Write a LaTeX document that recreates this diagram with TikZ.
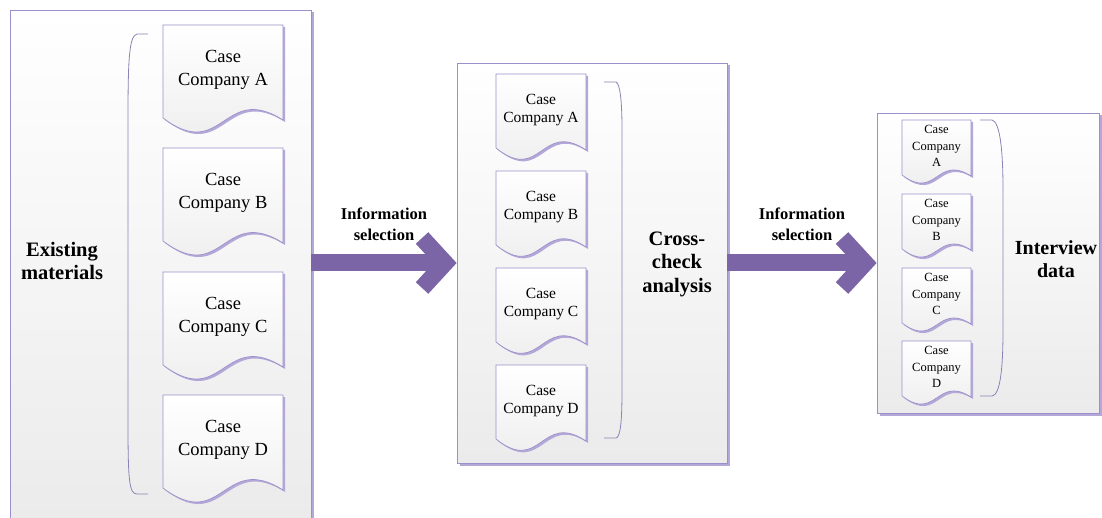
\documentclass[tikz,border=0pt]{standalone}
\usepackage{fontspec}
\setmainfont{Liberation Serif}
\usetikzlibrary{arrows.meta,shadows}
\definecolor{FlowLine}{HTML}{9D90CA}
\definecolor{FlowShadow}{HTML}{B3A8D8}
\definecolor{FlowArrow}{HTML}{7C65A7}
\definecolor{FlowFill}{HTML}{EBEBEB}

\tikzset{
  panel/.style={draw=FlowLine, line width=0.8pt, top color=white, bottom color=FlowFill,
    drop shadow={shadow xshift=2.5pt, shadow yshift=-2.5pt, fill=FlowShadow, opacity=1}},
  docshape/.style={draw=FlowLine, line width=0.7pt, top color=white, bottom color=FlowFill,
    drop shadow={shadow xshift=2pt, shadow yshift=-2pt, fill=FlowShadow, opacity=1}},
  casetext/.style={align=center, inner sep=0pt},
  biglabel/.style={align=center, inner sep=0pt, font=\bfseries\fontsize{20.5}{23.5}\selectfont},
  sellabel/.style={align=center, inner sep=0pt, font=\bfseries\fontsize{16.5}{21}\selectfont},
  bracket/.style={draw=FlowLine!90!black, line width=0.8pt},
  flowarrow/.style={draw=FlowArrow, line width=17pt, -{Straight Barb[sharp, length=23pt, width=50pt]}}
}

\begin{document}
\begin{tikzpicture}[x=1pt,y=-1pt]
\useasboundingbox (0,0) rectangle (1102,518);
\fill[white] (0,0) rectangle (1102,518);
\clip (0,0) rectangle (1102,518);

% the three panels
\node[panel, minimum width=301pt, minimum height=512pt] (exist) at (160.5,266) {};
\node[panel, minimum width=270pt, minimum height=400pt] (cross) at (592,263) {};
\node[panel, minimum width=222pt, minimum height=300pt] (inter) at (988,263) {};

% existing materials
\foreach \t/\c in {25/A,148/B,272/C,395/D}{
  \path[docshape] (163,\t) -- (283,\t) -- (283,\t+95)
    .. controls (223,\t+57) and (223,\t+138) .. (163,\t+93) -- cycle;
  \node[casetext, font=\fontsize{18.5}{22.5}\selectfont] (ex\c) at (223,\t+45) {Case\\Company \c};
}
\draw[bracket] (148,34) -- (137,34) .. controls (129,36) and (128,60) .. (128,120)
  -- (128,420) .. controls (128,480) and (129,494) .. (137,494) -- (148,494);
\node[biglabel] (existlbl) at (62,261) {Existing\\materials};

% cross-check
\foreach \t/\c in {74/A,171/B,268/C,365/D}{
  \path[docshape] (496,\t) -- (586,\t) -- (586,\t+76)
    .. controls (541,\t+46) and (541,\t+110) .. (496,\t+74) -- cycle;
  \node[casetext, font=\fontsize{15.5}{18}\selectfont] (cc\c) at (541,\t+36) {Case\\Company \c};
}
\draw[bracket] (604,82) -- (616,82) .. controls (620,84) and (622,100) .. (622,130)
  -- (622,390) .. controls (622,425) and (620,437) .. (616,438) -- (604,438);
\node[biglabel] (crosslbl) at (677,264) {Cross-\\check\\analysis};

% interview data
\foreach \t/\c in {120/A,194/B,268/C,341/D}{
  \path[docshape] (902,\t) -- (971,\t) -- (971,\t+56)
    .. controls (936.5,\t+34) and (936.5,\t+81) .. (902,\t+55) -- cycle;
  \node[casetext, font=\fontsize{12.5}{16.5}\selectfont] (iv\c) at (936.5,\t+26) {Case\\Company\\\c};
}
\draw[bracket] (980,120) -- (992,120) .. controls (1000,122) and (1003,150) .. (1003,190)
  -- (1003,330) .. controls (1003,370) and (1000,395) .. (992,396) -- (980,396);
\node[biglabel, font=\bfseries\fontsize{20}{23}\selectfont] (interlbl) at (1056,259) {Interview\\data};

% arrows
\draw[flowarrow] (exist.east |- cross.west) -- node[sellabel, above=14pt] (selA) {Information\\selection} (cross.west);
\draw[flowarrow] (cross.east) -- node[sellabel, above=14pt] (selB) {Information\\selection} (inter.west);
\end{tikzpicture}
\end{document}
